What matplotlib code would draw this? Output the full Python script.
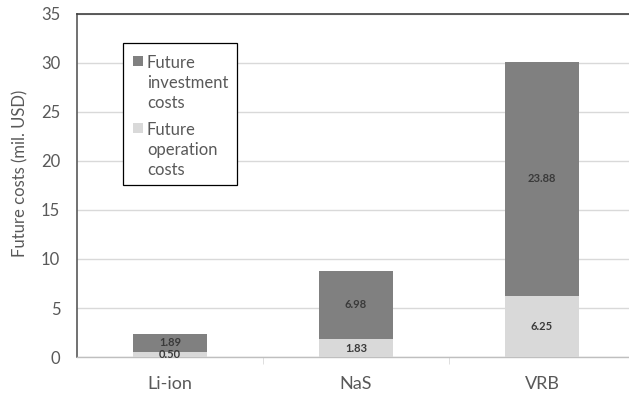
import matplotlib.pyplot as plt
from matplotlib.patches import Rectangle
import numpy as np

technologies = ["Li-ion", "NaS", "VRB"]
operation_costs = [0.50, 1.83, 6.25]
investment_costs = [1.89, 6.98, 23.88]

legend_entries = [
    ("#808080", ["Future", "investment", "costs"]),
    ("#d9d9d9", ["Future", "operation", "costs"]),
]

plt.rcParams["font.family"] = ["Lato", "DejaVu Sans"]

W, H = 629, 394
fig = plt.figure(figsize=(W / 100, H / 100), dpi=100)
# axes run slightly past the right edge of the figure
ax = fig.add_axes([0.1224, 0.0939, 0.887, 0.8706])

x = np.arange(len(technologies))
width = 0.40

bars_op = ax.bar(x, operation_costs, width, color="#d9d9d9", zorder=3)
bars_inv = ax.bar(x, investment_costs, width, bottom=operation_costs,
                  color="#808080", zorder=3)

for rect, val in zip(bars_op, operation_costs):
    ax.text(rect.get_x() + rect.get_width() / 2, val / 2, f"{val:.2f}",
            ha="center", va="center", fontsize=8, fontweight="bold",
            color="#3a3a3a", zorder=4)
for rect, base, val in zip(bars_inv, operation_costs, investment_costs):
    ax.text(rect.get_x() + rect.get_width() / 2, base + val / 2, f"{val:.2f}",
            ha="center", va="center", fontsize=8, fontweight="bold",
            color="#3a3a3a", zorder=4)

ax.set_xlim(-0.5, 2.5)
ax.set_ylim(0, 35)
ax.set_yticks(range(0, 36, 5))
ax.yaxis.grid(True, color="#d9d9d9", linewidth=1, zorder=0)

ax.set_xticks(x)
ax.set_xticklabels(technologies, fontsize=13, color="#595959")
ax.set_xticks([0.5, 1.5], minor=True)
ax.tick_params(axis="x", which="major", length=0, pad=14)
ax.tick_params(axis="x", which="minor", length=5, color="#d9d9d9")
ax.tick_params(axis="y", length=0, labelsize=12, labelcolor="#595959", pad=12)

ax.spines["right"].set_visible(False)
ax.spines["top"].set_color("#404040")
ax.spines["top"].set_linewidth(1.2)
ax.spines["left"].set_color("#595959")
ax.spines["left"].set_linewidth(1.2)
ax.spines["bottom"].set_color("#bfbfbf")
ax.spines["bottom"].set_linewidth(1)

ax.set_ylabel("Future costs (mil. USD)", fontsize=12, color="#595959")
ax.yaxis.set_label_coords(-0.087, 0.536)


# hand-built legend: square swatch next to the first line of each label
def px(xp, yp):
    return xp / W, 1 - yp / H


fig.add_artist(Rectangle(px(123, 185), 114 / W, 142 / H, transform=fig.transFigure,
                         facecolor="white", edgecolor="black", linewidth=0.9,
                         zorder=5))
baseline = 68
for color, lines in legend_entries:
    fig.add_artist(Rectangle(px(133, baseline - 2), 9.5 / W, 10 / H,
                             transform=fig.transFigure, facecolor=color,
                             edgecolor="none", zorder=6))
    for i, line in enumerate(lines):
        fig.text(*px(147, baseline + 20 * i), line, fontsize=12, color="#595959",
                 va="baseline", ha="left", zorder=6)
    baseline += 67

fig.savefig("out.png", dpi=100)
